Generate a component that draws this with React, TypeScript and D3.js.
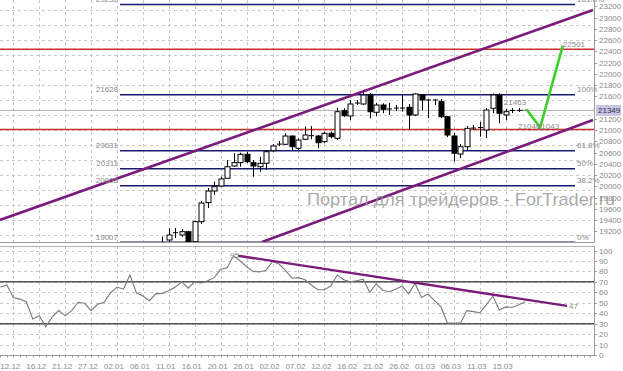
import React from "react";
import * as d3 from "d3";

const W = 623;
const H = 371;

// ---- data ----
const dateLabels = ["12.12", "16.12", "21.12", "27.12", "02.01", "06.01", "11.01", "16.01", "20.01", "26.01", "02.02", "07.02", "12.02", "16.02", "21.02", "26.02", "01.03", "06.03", "11.03", "15.03"];
const dateEvery = 4;

const candleStart = 23;
const opens = [18990, 19045, 19165, 19134, 19193, 19015, 19371, 19709, 19916, 20005, 20142, 20361, 20420, 20569, 20420, 20348, 20409, 20633, 20745, 20747, 20894, 20676, 20836, 20894, 20894, 20793, 20942, 20853, 21344, 21250, 21475, 21463, 21623, 21316, 21445, 21369, 21387, 21387, 21404, 21268, 21623, 21534, 21530, 21504, 21237, 20894, 20574, 20704, 21028, 21040, 21001, 21387, 21623, 21268, 21344, 21326];
const highs = [19104, 19253, 19259, 19241, 19210, 19390, 19739, 19970, 20082, 20171, 20468, 20587, 20597, 20610, 20468, 20526, 20645, 20752, 20805, 20942, 20900, 20853, 21060, 21072, 20912, 20971, 20971, 21392, 21387, 21534, 21534, 21682, 21659, 21481, 21475, 21481, 21445, 21623, 21463, 21653, 21641, 21552, 21552, 21552, 21250, 20948, 20752, 21072, 21090, 21148, 21392, 21653, 21653, 21374, 21392, 21392];
const lows = [18920, 18992, 19081, 19099, 18995, 19000, 19330, 19614, 19845, 19993, 20142, 20348, 20348, 20414, 20171, 20259, 20290, 20615, 20716, 20734, 20645, 20645, 20823, 20836, 20676, 20765, 20853, 20823, 21237, 21179, 21445, 21445, 21209, 21250, 21298, 21268, 21339, 21326, 21001, 21250, 21356, 21214, 21445, 21214, 20876, 20437, 20503, 20645, 21001, 20882, 20859, 21298, 21120, 21179, 21303, 21321];
const closes = [19000, 19134, 19175, 19193, 19015, 19371, 19703, 19916, 19993, 20130, 20348, 20420, 20569, 20437, 20361, 20409, 20615, 20717, 20750, 20894, 20704, 20823, 20912, 20900, 20775, 20942, 20882, 21326, 21255, 21463, 21480, 21623, 21326, 21445, 21369, 21375, 21390, 21392, 21268, 21641, 21534, 21530, 21534, 21237, 20912, 20587, 20704, 21031, 21035, 21045, 21356, 21623, 21298, 21326, 21348, 21349];

const rsiStart = -2;
const rsiValues = [65, 67, 55, 53.5, 51, 34.5, 37.5, 27, 36.5, 42.5, 37.5, 42.5, 50.5, 49.5, 42.5, 48.5, 50.5, 59.5, 65, 63, 76.5, 59.5, 56.5, 52, 58.5, 59, 61.5, 65, 70, 64, 70, 69, 71, 74, 82, 83.5, 95, 90, 84.5, 80, 79.5, 81, 89.5, 87, 81, 73.5, 74, 72, 67, 62.5, 62.5, 66, 76.5, 72, 70, 71, 72.5, 60, 68, 62, 60.5, 63, 66, 58.5, 68.5, 55, 58.5, 52, 46, 30.5, 30.5, 30.5, 42.5, 41.5, 40.5, 48, 56.5, 43, 46, 45.5, 48, 51];

const priceTicks = [23200, 23000, 22800, 22600, 22400, 22200, 22000, 21800, 21600, 21200, 21000, 20800, 20600, 20400, 20200, 20000, 19800, 19600, 19400, 19200];
const rsiTicks = [100, 90, 80, 70, 60, 50, 40, 30, 20, 10, 0];
const rsiLevels = [70, 30];

const fibValues = [23232, 21628, 20631, 20311, 20008, 19007];
const fibLabels = ["23232", "21628", "20631", "20311", "20008", "19007"];
const fibPcts = ["161.8%", "100%", "61.8%", "50%", "38.2%", "0%"];

const redLevels = [22436, 21010];
const currentPrice = 21349;

const upperChannel: [number, number][] = [[-2.05, 19401], [89.46, 23134]];
const lowerChannel: [number, number][] = [[38.38, 19010], [89.46, 21179]];
const forecast: [number, number][] = [[79.2, 21369], [81.3, 21043], [84.8, 22501]];
const forecastLink: [number, number][] = [[78, 21349], [79.2, 21355]];
const rsiTrend: [number, number][] = [[34.68, 95], [85.45, 47]];

const priceNotes = [
  { k: 75.7, v: 21463, t: "21463" },
  { k: 77.9, v: 21040, t: "21040" },
  { k: 80.8, v: 21043, t: "21043" },
  { k: 84.8, v: 22501, t: "22501" },
];

// ---- layout ----
const axisX = 594;
const mainBottom = 242.5;
const rsiTop = 246;
const rsiBottom = 355.5;

const x = d3.scaleLinear().domain([0, 1]).range([13.3, 13.3 + 6.48]);
const y = d3.scaleLinear().domain([23200, 19200]).range([6.3, 231.3]);
const yr = d3.scaleLinear().domain([0, 100]).range([355, 250.5]);

const FONT = "'Liberation Sans', Arial, sans-serif";
const LABEL = "#8a8a8a";

export default function App() {
  const line = d3.line<[number, number]>().x((d) => x(d[0])).y((d) => y(d[1]));
  const rline = d3.line<[number, number]>().x((d) => x(d[0])).y((d) => yr(d[1]));
  const rsiPts: [number, number][] = rsiValues.map((v, i) => [rsiStart + i, v]);

  const gridXs = dateLabels.map((_, i) => x(i * dateEvery));
  const gridYs = d3.range(10, mainBottom, 15);

  return (
    <svg width={W} height={H} style={{ position: "absolute", left: 0, top: 0, background: "#fff" }} fontFamily={FONT}>
      <defs>
        <clipPath id="mainClip">
          <rect x={0} y={0} width={axisX} height={mainBottom} />
        </clipPath>
        <clipPath id="rsiClip">
          <rect x={0} y={rsiTop} width={axisX} height={rsiBottom - rsiTop} />
        </clipPath>
      </defs>
      <rect x={0} y={0} width={W} height={H} fill="#fff" />

      {/* grids */}
      <g stroke="#c8c8c8" strokeDasharray="3,3" strokeWidth={1}>
        {gridYs.map((gy, i) => (
          <line key={"gy" + i} x1={0} x2={axisX} y1={Math.round(gy) + 0.5} y2={Math.round(gy) + 0.5} />
        ))}
        {gridXs.map((gx, i) => (
          <line key={"gx" + i} x1={Math.round(gx) + 0.5} x2={Math.round(gx) + 0.5} y1={0} y2={mainBottom} />
        ))}
        {gridXs.map((gx, i) => (
          <line key={"gxr" + i} x1={Math.round(gx) + 0.5} x2={Math.round(gx) + 0.5} y1={rsiTop} y2={rsiBottom} />
        ))}
        {rsiTicks.map((t) => (
          <line key={"rg" + t} x1={0} x2={axisX} y1={Math.round(yr(t)) + 0.5} y2={Math.round(yr(t)) + 0.5} />
        ))}
      </g>

      {/* main panel */}
      <g clipPath="url(#mainClip)">
        {/* current price line */}
        <line x1={0} x2={axisX} y1={y(currentPrice)} y2={y(currentPrice)} stroke="#b0b0b0" strokeWidth={1} />
        {/* red levels */}
        {redLevels.map((v) => (
          <line key={"red" + v} x1={0} x2={axisX} y1={y(v)} y2={y(v)} stroke="#c8322a" strokeWidth={1.6} />
        ))}
        {/* fib levels */}
        {fibValues.map((v) => (
          <line key={"fib" + v} x1={120} x2={575} y1={y(v)} y2={y(v)} stroke="#1a1a6e" strokeWidth={1.5} />
        ))}
        {/* candles */}
        {opens.map((o, i) => {
          const k = candleStart + i;
          const c = closes[i];
          const cx = Math.round(x(k)) + 0.5;
          const top = y(Math.max(o, c));
          const bot = y(Math.min(o, c));
          const bull = c >= o;
          const h = Math.max(bot - top, 0);
          return (
            <g key={"c" + k}>
              <line x1={cx} x2={cx} y1={y(highs[i])} y2={y(lows[i])} stroke="#000" strokeWidth={1} />
              {h < 1.5 ? (
                <line x1={cx - 2.5} x2={cx + 2.5} y1={top} y2={top} stroke="#000" strokeWidth={1} />
              ) : (
                <rect x={cx - 2.5} y={top} width={5} height={h} fill={bull ? "#fff" : "#000"} stroke="#000" strokeWidth={1} />
              )}
            </g>
          );
        })}
        {/* channel lines */}
        <path d={line(upperChannel) || ""} stroke="#7a1a7a" strokeWidth={2.6} fill="none" />
        <path d={line(lowerChannel) || ""} stroke="#7a1a7a" strokeWidth={2.6} fill="none" />
        {/* forecast */}
        <path d={line(forecastLink) || ""} stroke="#333" strokeWidth={1} strokeDasharray="2,1" fill="none" />
        <path d={line(forecast) || ""} stroke="#3ccf2a" strokeWidth={2.6} fill="none" strokeLinejoin="miter" />
      </g>

      {/* fib labels */}
      <g fontSize={8} fill={LABEL}>
        {fibValues.map((v, i) => (
          <text key={"fl" + v} x={118} y={y(v) - 2.5} textAnchor="end">
            {fibLabels[i]}
          </text>
        ))}
        {fibValues.map((v, i) => (
          <text key={"fp" + v} x={577} y={y(v) - 2.5}>
            {fibPcts[i]}
          </text>
        ))}
        {priceNotes.map((n) => (
          <text key={"pn" + n.t} x={x(n.k)} y={y(n.v) + 1}>
            {n.t}
          </text>
        ))}
      </g>

      {/* borders */}
      <line x1={0} x2={axisX} y1={mainBottom} y2={mainBottom} stroke="#9a9a9a" strokeWidth={1} />
      <line x1={0} x2={axisX} y1={rsiTop + 0.5} y2={rsiTop + 0.5} stroke="#b0b0b0" strokeWidth={1} />
      <line x1={0} x2={axisX} y1={rsiBottom} y2={rsiBottom} stroke="#9a9a9a" strokeWidth={1} />
      <line x1={axisX + 0.5} x2={axisX + 0.5} y1={0} y2={mainBottom} stroke="#9a9a9a" strokeWidth={1} />
      <line x1={axisX + 0.5} x2={axisX + 0.5} y1={rsiTop} y2={rsiBottom} stroke="#9a9a9a" strokeWidth={1} />

      {/* price axis */}
      <g fontSize={8} fill={LABEL}>
        {priceTicks.map((t) => (
          <g key={"pt" + t}>
            <line x1={axisX} x2={axisX + 3} y1={Math.round(y(t)) + 0.5} y2={Math.round(y(t)) + 0.5} stroke="#9a9a9a" />
            <text x={599} y={y(t) + 3}>
              {t}
            </text>
          </g>
        ))}
      </g>
      <rect x={596} y={y(currentPrice) - 5.5} width={25} height={11} fill="#c6c6e2" />
      <text x={598} y={y(currentPrice) + 3} fontSize={8} fill="#2a2a55">
        {currentPrice}
      </text>

      {/* rsi panel */}
      <g clipPath="url(#rsiClip)">
        {rsiLevels.map((l) => (
          <line key={"rl" + l} x1={0} x2={axisX} y1={yr(l)} y2={yr(l)} stroke="#555" strokeWidth={1.5} />
        ))}
        <path d={rline(rsiPts) || ""} stroke="#7a7a7a" strokeWidth={1.1} fill="none" />
        <path d={rline(rsiTrend) || ""} stroke="#7a1a7a" strokeWidth={2.4} fill="none" />
      </g>
      <g fontSize={8} fill={LABEL}>
        <text x={x(rsiTrend[0][0]) - 8} y={yr(rsiTrend[0][1]) + 2}>
          {rsiTrend[0][1]}
        </text>
        <text x={x(rsiTrend[1][0]) + 2} y={yr(rsiTrend[1][1]) + 3}>
          {rsiTrend[1][1]}
        </text>
        {rsiTicks.map((t) => (
          <g key={"rt" + t}>
            <line x1={axisX} x2={axisX + 3} y1={Math.round(yr(t)) + 0.5} y2={Math.round(yr(t)) + 0.5} stroke="#9a9a9a" />
            <text x={599} y={yr(t) + 3}>
              {t}
            </text>
          </g>
        ))}
      </g>

      {/* time axis */}
      <g stroke="#9a9a9a">
        {d3.range(-2, 90).map((k) =>
          x(k) < axisX ? <line key={"tk" + k} x1={Math.round(x(k)) + 0.5} x2={Math.round(x(k)) + 0.5} y1={rsiBottom} y2={rsiBottom + 2} /> : null
        )}
      </g>
      <g fontSize={8} fill={LABEL} textAnchor="middle">
        {dateLabels.map((d, i) => (
          <text key={"dl" + d} x={x(i * dateEvery) - 3} y={369}>
            {d}
          </text>
        ))}
      </g>

      {/* watermark */}
      <text x={307} y={205} fontSize={17} fill="#9a9a9a" fillOpacity={0.85} textLength={308} lengthAdjust="spacingAndGlyphs">
        Портал для трейдеров - ForTrader.ru
      </text>
    </svg>
  );
}
